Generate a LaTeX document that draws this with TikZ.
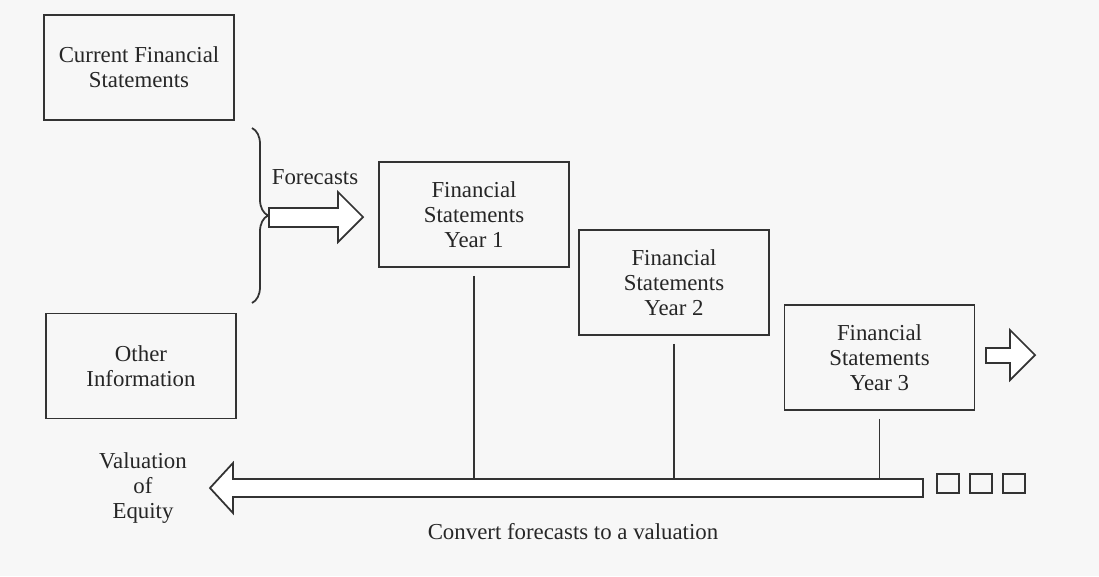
\documentclass[tikz,border=0pt]{standalone}
\usepackage{fontspec}
\setmainfont{Liberation Serif}
\usetikzlibrary{decorations.pathreplacing}

\tikzset{
    fsbox/.style={shape=rectangle, draw=black!80, line width=1pt, align=center,
        minimum width=3.8cm, minimum height=2.1cm, text=black!85,
        font=\fontsize{13}{14.2}\selectfont},
    lbl/.style={align=center, text=black!85, font=\fontsize{13}{14.2}\selectfont},
    hollow/.style={draw=black!80, line width=1pt, fill=white, line join=miter},
    stem/.style={draw=black!80, line width=1pt, shorten <=0.16cm}
}

\begin{document}
\begin{tikzpicture}[x=0.02cm, y=-0.02cm]
    \fill[black!3] (0,0) rectangle (1099,576);
    \useasboundingbox (0,0) rectangle (1099,576);

    % Inputs
    \node[fsbox] (cfs) at (139,67.5) {Current Financial\\Statements};
    \node[fsbox] (oth) at (141,366) {Other\\Information};
    \draw[draw=black!80, line width=1pt, decorate, decoration={brace, amplitude=0.32cm}]
        (252,128) -- (252,303);

    % Forecasts
    \node[lbl] (fc) at (315,177) {Forecasts};
    \draw[hollow] (269,208) -- (338,208) -- (338,192) -- (363,217)
        -- (338,242) -- (338,227) -- (269,227) -- cycle;

    % Forecast years
    \node[fsbox] (fs1) at (474,214.5) {Financial\\Statements\\Year 1};
    \node[fsbox] (fs2) at (674,282.5) {Financial\\Statements\\Year 2};
    \node[fsbox] (fs3) at (879.5,357.5) {Financial\\Statements\\Year 3};
    \draw[hollow] (986,348) -- (1010,348) -- (1010,330) -- (1035,355)
        -- (1010,380) -- (1010,363) -- (986,363) -- cycle;

    % Valuation
    \coordinate (shaft) at (923,479);
    \draw[hollow] (923,479) -- (233,479) -- (233,463) -- (210,488)
        -- (233,513) -- (233,497) -- (923,497) -- cycle;
    \draw[stem] (fs1.south) -- (fs1.south |- shaft);
    \draw[stem] (fs2.south) -- (fs2.south |- shaft);
    \draw[stem] (fs3.south) -- (fs3.south |- shaft);
    \foreach \sx in {937,970,1003}
        \draw[draw=black!80, line width=1pt] (\sx,474) rectangle ++(22,19);

    \node[lbl] (val) at (143,488) {Valuation\\of\\Equity};
    \node[lbl] (conv) at (573,532) {Convert forecasts to a valuation};
\end{tikzpicture}
\end{document}
